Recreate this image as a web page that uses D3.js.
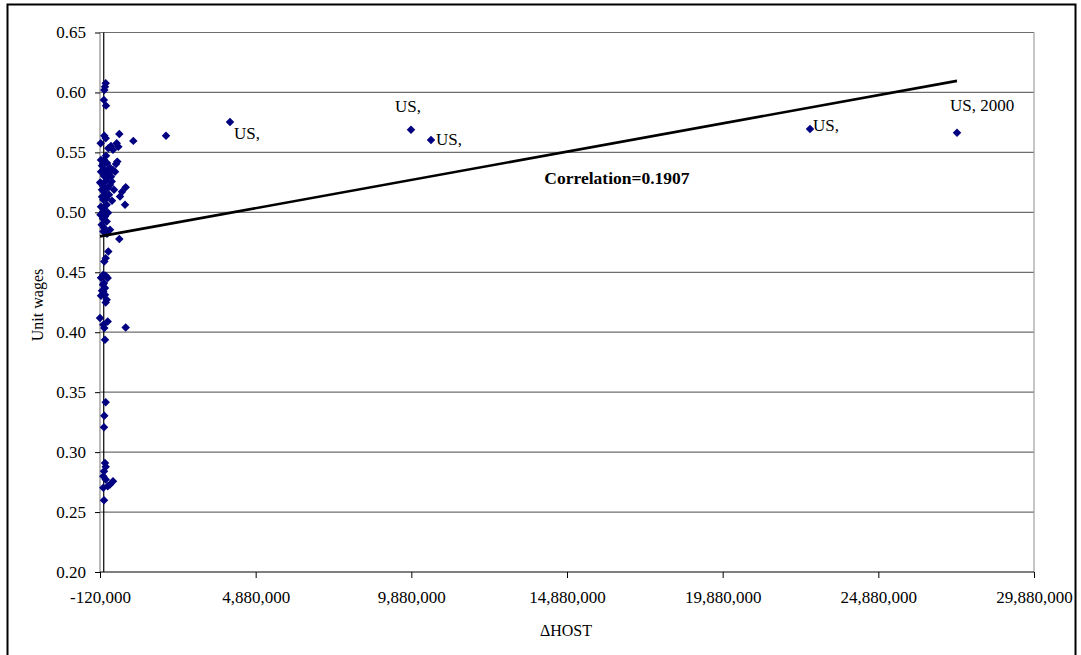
<!DOCTYPE html>
<html>
<head>
<meta charset="utf-8">
<script src="https://cdn.jsdelivr.net/npm/d3@7"></script>
<style>
  html, body { margin: 0; padding: 0; background: #fff; }
  svg { display: block; font-family: "Liberation Serif", "Times New Roman", serif; }
</style>
</head>
<body>
<svg id="chart" width="1081" height="655"></svg>
<script>
// Change in host employment (persons) for each observation
const hostChange = [
  63000, 40000, 18000, 5000, 73000, 18000, 63000, 500000, 950000, 2000000,
  -98000, 233000, 416000, 468000, 147000, 298000, 436000, 394000, 8000, 105000,
  -56000, 201000, 40000, 298000, -88000, 137000, 362000, 8000, 233000, -115000,
  -88000, 73000, 255000, 705000, 587000, 522000, 683000, -24000, 137000, 330000,
  8000, 169000, -56000, 73000, -14000, 265000, 95000, -88000, 8000, -14000,
  137000, -104000, 40000, -24000, 95000, -65000, 8000, -14000, 201000, 105000,
  500000, 147000, 63000, 18000, -14000, 63000, 127000, -88000, 8000, 40000,
  -14000, 40000, 95000, 63000, -120000, 127000, -14000, 18000, 705000, 40000,
  63000, 18000, 8000, 40000, 63000, 8000, -14000, 63000, 298000, 201000,
  -14000, 127000, 8000, -24000, 105000, -56000, 201000, 8000, -88000, 73000,
  -56000, -88000, -24000
];

// Unit wages for the same observations
const unitWages = [
  0.6077, 0.6048, 0.6021, 0.5938, 0.5890, 0.5638, 0.5618, 0.5654, 0.5596, 0.5638,
  0.5577, 0.5554, 0.5577, 0.5548, 0.5535, 0.5521, 0.5423, 0.5404, 0.5437, 0.5412,
  0.5388, 0.5371, 0.5354, 0.5354, 0.5338, 0.5329, 0.5338, 0.5304, 0.5296, 0.5248,
  0.5243, 0.5263, 0.5257, 0.5210, 0.5171, 0.5132, 0.5063, 0.5221, 0.5204, 0.5188,
  0.5171, 0.5146, 0.5129, 0.5113, 0.5104, 0.5096, 0.5063, 0.5046, 0.5029, 0.5007,
  0.4996, 0.4979, 0.4965, 0.4946, 0.4923, 0.4896, 0.4871, 0.4840, 0.4854, 0.4821,
  0.4777, 0.4673, 0.4618, 0.4590, 0.4479, 0.4471, 0.4452, 0.4454, 0.4410, 0.4368,
  0.4340, 0.4313, 0.4271, 0.4248, 0.4118, 0.4090, 0.4063, 0.4035, 0.4040, 0.3938,
  0.3415, 0.3304, 0.3207, 0.2910, 0.2877, 0.2840, 0.2798, 0.2771, 0.2757, 0.2729,
  0.2702, 0.2715, 0.2598, 0.5404, 0.5288, 0.5188, 0.5229, 0.5138, 0.5437, 0.5471,
  0.4346, 0.4304, 0.4396
];

// US observations, drawn with text labels
const usHostChange = [4055600, 9869000, 10512000, 22685000, 27407000];
const usUnitWages = [0.5754, 0.5688, 0.5604, 0.5696, 0.5663];
const usLabels = ["US,", "US,", "US,", "US,", "US, 2000"];
// label placement relative to its marker (px)
const usLabelOffsets = [[4, 17], [-16, -18], [5, 5], [3, 2], [-7, -22]];

// Fitted line: wage = intercept + slope * hostChange
const trendIntercept = 0.4805;
const trendSlope = 4.712e-9;
const correlationText = "Correlation=0.1907";

// Axis ticks
const xTicks = [-120000, 4880000, 9880000, 14880000, 19880000, 24880000, 29880000];
const yTicks = [0.20, 0.25, 0.30, 0.35, 0.40, 0.45, 0.50, 0.55, 0.60, 0.65];

const svg = d3.select("#chart");
const W = 1081, H = 655;
const plot = { left: 100, right: 1034, top: 32.5, bottom: 572 };
const serif = "Liberation Serif, Times New Roman, serif";

svg.append("rect").attr("width", W).attr("height", H).attr("fill", "#fff");
// outer frame
svg.append("rect")
  .attr("x", 7.5).attr("y", 4.5).attr("width", 1068).attr("height", 660)
  .attr("fill", "none").attr("stroke", "#000").attr("stroke-width", 2);

const x = d3.scaleLinear().domain([-120000, 29880000]).range([plot.left, plot.right]);
const y = d3.scaleLinear().domain([0.20, 0.65]).range([plot.bottom, plot.top]);

// horizontal gridlines
svg.append("g")
  .selectAll("line")
  .data(yTicks.filter(v => v > 0.2))
  .join("line")
  .attr("x1", plot.left).attr("x2", plot.right)
  .attr("y1", d => y(d)).attr("y2", d => y(d))
  .attr("stroke", "#6e6e6e").attr("stroke-width", 1.2);

// right border of plot area
svg.append("line")
  .attr("x1", plot.right).attr("x2", plot.right)
  .attr("y1", plot.top).attr("y2", plot.bottom)
  .attr("stroke", "#a0a0a0").attr("stroke-width", 1.2);
// left border of plot area
svg.append("line")
  .attr("x1", plot.left).attr("x2", plot.left)
  .attr("y1", plot.top).attr("y2", plot.bottom)
  .attr("stroke", "#8a8a8a").attr("stroke-width", 1.2);

// y axis (ticks and labels at the plot edge)
const yAxis = d3.axisLeft(y).tickValues(yTicks).tickFormat(d3.format(".2f")).tickSize(5).tickPadding(9);
const gy = svg.append("g").attr("transform", `translate(${plot.left},0)`).call(yAxis);
gy.select(".domain").remove();
gy.selectAll(".tick line").attr("stroke", "#000");
gy.selectAll(".tick text")
  .attr("font-family", serif)
  .attr("font-size", 17).attr("fill", "#000");

// vertical value axis where host change is zero
svg.append("line")
  .attr("x1", x(0)).attr("x2", x(0))
  .attr("y1", plot.top).attr("y2", plot.bottom)
  .attr("stroke", "#000").attr("stroke-width", 1.2);

// x axis, thousands separated, plain hyphen for negatives
const fmtX = v => d3.format(",")(v).replace("\u2212", "-");
const xAxis = d3.axisBottom(x).tickValues(xTicks).tickFormat(fmtX).tickSize(6).tickPadding(13);
const gx = svg.append("g").attr("transform", `translate(0,${plot.bottom})`).call(xAxis);
gx.select(".domain").attr("stroke", "#000").attr("stroke-width", 1.2).attr("d", `M${plot.left},0H${plot.right}`);
gx.selectAll(".tick line").attr("stroke", "#000");
gx.selectAll(".tick text")
  .attr("font-family", serif)
  .attr("font-size", 17).attr("fill", "#000");

// axis titles
svg.append("text")
  .attr("x", 566).attr("y", 636)
  .attr("text-anchor", "middle").attr("font-size", 16).attr("fill", "#000")
  .text("\u0394HOST");
svg.append("text")
  .attr("transform", "translate(43,305) rotate(-90)")
  .attr("text-anchor", "middle").attr("font-size", 16).attr("fill", "#000")
  .text("Unit wages");

// diamond markers
const diamond = d3.symbol().type(d3.symbolSquare).size(36)();
const allX = hostChange.concat(usHostChange);
const pts = hostChange.map((v, i) => ({ x: v, y: unitWages[i] }))
  .concat(usHostChange.map((v, i) => ({ x: v, y: usUnitWages[i] })));

svg.append("g")
  .selectAll("path")
  .data(pts)
  .join("path")
  .attr("d", diamond)
  .attr("transform", d => `translate(${x(d.x)},${y(d.y)}) rotate(45)`)
  .attr("fill", "#000080");

// fitted line across the observed range
const [xMin, xMax] = d3.extent(allX);
const trend = [xMin, xMax].map(v => ({ x: v, y: trendIntercept + trendSlope * v }));
svg.append("path")
  .datum(trend)
  .attr("d", d3.line().x(d => x(d.x)).y(d => y(d.y)))
  .attr("stroke", "#000").attr("stroke-width", 2.6).attr("fill", "none");

// US labels
svg.append("g")
  .selectAll("text")
  .data(usLabels)
  .join("text")
  .attr("x", (d, i) => x(usHostChange[i]) + usLabelOffsets[i][0])
  .attr("y", (d, i) => y(usUnitWages[i]) + usLabelOffsets[i][1])
  .attr("font-size", 17).attr("fill", "#000")
  .text(d => d);

// correlation annotation
svg.append("text")
  .attr("x", 617).attr("y", 184)
  .attr("text-anchor", "middle").attr("font-size", 17.5).attr("font-weight", "bold").attr("fill", "#000")
  .text(correlationText);
</script>
</body>
</html>
